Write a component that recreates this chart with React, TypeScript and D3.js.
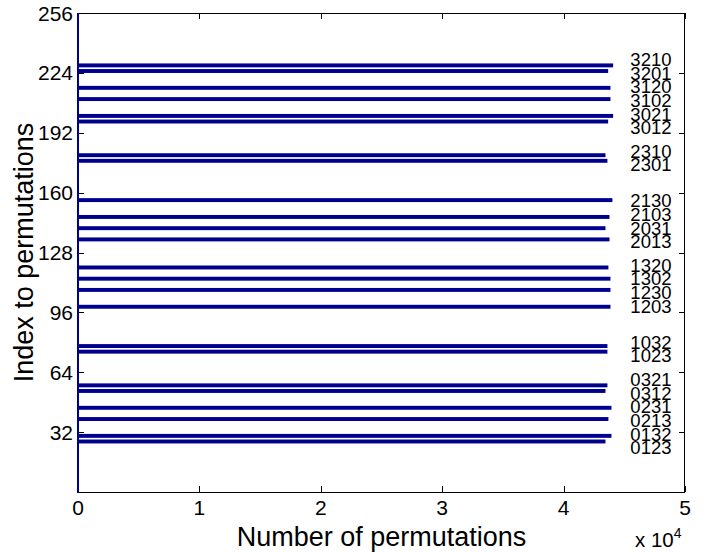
import React, { useRef, useEffect } from 'react';
import * as d3 from 'd3';

// permutations of 0123, read as base-4 numbers they give the index
const permLabels = [
  '0123', '0132', '0213', '0231', '0312', '0321',
  '1023', '1032', '1203', '1230', '1302', '1320',
  '2013', '2031', '2103', '2130', '2301', '2310',
  '3012', '3021', '3102', '3120', '3201', '3210',
];
const permCounts = [
  43450, 43940, 43690, 43940, 43450, 43610,
  43610, 43610, 43860, 43860, 43860, 43690,
  43780, 43450, 43780, 44020, 43610, 43450,
  43670, 44080, 43860, 43860, 43670, 44080,
];
const xTicks = [0, 10000, 20000, 30000, 40000, 50000];
const yTicks = [32, 64, 96, 128, 160, 192, 224, 256];

// push overlapping labels apart, each group centred on the mean of its bars
function spreadLabels(vals: number[], gap: number) {
  const order = vals.map((v, i) => i).sort((a, b) => vals[a] - vals[b]);
  let groups = order.map(i => ({ ids: [i], sum: vals[i] }));
  let changed = true;
  while (changed) {
    changed = false;
    for (let i = 0; i < groups.length - 1; i++) {
      const a = groups[i], b = groups[i + 1];
      const aTop = a.sum / a.ids.length + ((a.ids.length - 1) * gap) / 2;
      const bBot = b.sum / b.ids.length - ((b.ids.length - 1) * gap) / 2;
      if (bBot - aTop < gap) {
        groups.splice(i, 2, { ids: a.ids.concat(b.ids), sum: a.sum + b.sum });
        changed = true;
        break;
      }
    }
  }
  const pos: number[] = [];
  groups.forEach(g => {
    const start = g.sum / g.ids.length - ((g.ids.length - 1) * gap) / 2;
    g.ids.forEach((id, k) => (pos[id] = start + k * gap));
  });
  return pos;
}

const App = () => {
  const chartRef = useRef<SVGSVGElement>(null);

  useEffect(() => {
    const svg = d3.select(chartRef.current);
    svg.selectAll('*').remove();

    const width = 710, height = 552;
    const margin = { top: 13, right: 25, bottom: 60, left: 78 };
    const font = 'Liberation Sans, Arial, Helvetica, sans-serif';
    const barColor = '#00008f';

    const x = d3.scaleLinear().domain([0, 50000]).range([margin.left, width - margin.right]);
    const y = d3.scaleLinear().domain([0, 256]).range([height - margin.bottom, margin.top]);

    const data = permLabels.map((label, i) => ({
      label,
      index: parseInt(label, 4),
      count: permCounts[i],
    }));
    const labelPos = spreadLabels(data.map(d => d.index), 7.3);

    svg.append('rect').attr('width', width).attr('height', height).attr('fill', '#fff');

    const barH = 2.1;
    svg
      .append('g')
      .attr('fill', barColor)
      .selectAll('rect')
      .data(data)
      .enter()
      .append('rect')
      .attr('x', x(0))
      .attr('y', d => y(d.index + barH / 2))
      .attr('width', d => x(d.count) - x(0))
      .attr('height', y(0) - y(barH));

    svg
      .append('g')
      .selectAll('text')
      .data(data)
      .enter()
      .append('text')
      .attr('x', x(45500))
      .attr('y', (d, i) => y(labelPos[i]))
      .attr('dy', '0.36em')
      .attr('font-family', font)
      .attr('font-size', 18.5)
      .attr('fill', '#000')
      .text(d => d.label);

    // frame
    const x0 = x(0), x1 = x(50000), y0 = y(0), y1 = y(256);
    const frame = svg.append('g').attr('stroke', '#000').attr('stroke-width', 1).attr('fill', 'none');
    frame.append('line').attr('x1', x0).attr('x2', x1).attr('y1', y0 + 0.5).attr('y2', y0 + 0.5);
    frame.append('line').attr('x1', x0).attr('x2', x1).attr('y1', y1 + 0.5).attr('y2', y1 + 0.5);
    frame.append('line').attr('x1', x1 - 0.5).attr('x2', x1 - 0.5).attr('y1', y1).attr('y2', y0);

    const tl = 6;
    xTicks.forEach(t => {
      const px = Math.round(x(t)) + 0.5;
      frame.append('line').attr('x1', px).attr('x2', px).attr('y1', y0).attr('y2', y0 - tl);
      frame.append('line').attr('x1', px).attr('x2', px).attr('y1', y1).attr('y2', y1 + tl);
    });
    yTicks.forEach(t => {
      const py = Math.round(y(t)) + 0.5;
      frame.append('line').attr('x1', x0).attr('x2', x0 + tl).attr('y1', py).attr('y2', py);
      frame.append('line').attr('x1', x1).attr('x2', x1 - tl).attr('y1', py).attr('y2', py);
    });

    // zero-length bars leave a blue edge along x = 0
    svg
      .append('line')
      .attr('x1', x0)
      .attr('x2', x0)
      .attr('y1', y1)
      .attr('y2', y0 + 1)
      .attr('stroke', barColor)
      .attr('stroke-width', 2);

    svg
      .append('g')
      .selectAll('text')
      .data(xTicks)
      .enter()
      .append('text')
      .attr('x', d => x(d))
      .attr('y', y0 + 23)
      .attr('text-anchor', 'middle')
      .attr('font-family', font)
      .attr('font-size', 21)
      .text(d => d / 10000);

    svg
      .append('g')
      .selectAll('text')
      .data(yTicks)
      .enter()
      .append('text')
      .attr('x', x0 - 5)
      .attr('y', d => y(d))
      .attr('dy', '0.36em')
      .attr('text-anchor', 'end')
      .attr('font-family', font)
      .attr('font-size', 21)
      .text(d => d);

    svg
      .append('text')
      .attr('x', (x0 + x1) / 2)
      .attr('y', 546)
      .attr('text-anchor', 'middle')
      .attr('font-family', font)
      .attr('font-size', 27)
      .text('Number of permutations');

    svg
      .append('text')
      .attr('transform', 'translate(33,' + (y0 + y1) / 2 + ') rotate(-90)')
      .attr('text-anchor', 'middle')
      .attr('font-family', font)
      .attr('font-size', 27)
      .text('Index to permutations');

    const exp = svg.append('text').attr('x', 635).attr('y', 546.5).attr('font-family', font).attr('font-size', 20.5);
    exp.append('tspan').text('x 10');
    exp.append('tspan').attr('font-size', 14).attr('dy', -9).text('4');
  }, []);

  return (
    <svg
      ref={chartRef}
      width="710"
      height="552"
      style={{ position: 'absolute', left: 0, top: 0 }}
    />
  );
};

export default App;
